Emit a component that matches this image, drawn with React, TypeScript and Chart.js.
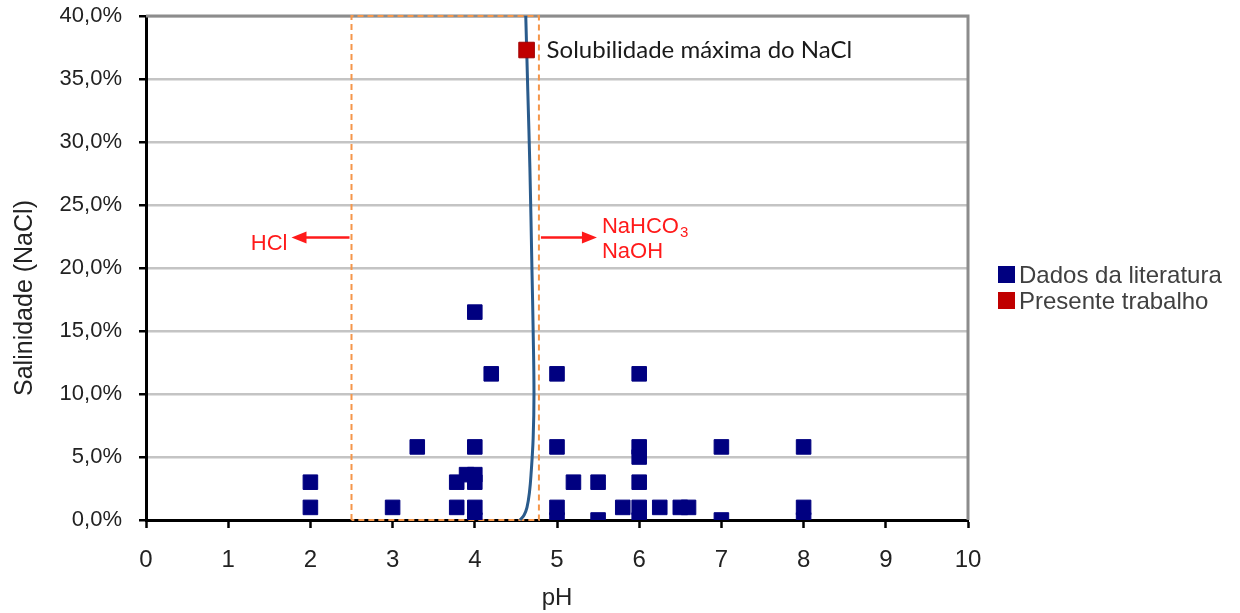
import React, { useEffect, useRef } from "react";
import { Chart, registerables } from "chart.js";

Chart.register(...registerables);

// Literature data (pH, salinity %)
const literaturePH = [
  2, 2, 3, 3.3, 3.78, 3.78, 3.9, 4, 4, 4, 4, 4, 4, 4.2,
  5, 5, 5, 5, 5.2, 5.5, 5.5, 5.8, 6, 6, 6, 6, 6, 6,
  6.25, 6.5, 6.6, 7, 7, 8, 8, 8,
];
const literatureSalinity = [
  3.0, 1.0, 1.0, 5.8, 3.0, 1.0, 3.6, 16.5, 5.8, 3.6, 3.0, 1.0, 0.0, 11.6,
  11.6, 5.8, 1.0, 0.0, 3.0, 3.0, 0.0, 1.0, 11.6, 5.8, 5.0, 3.0, 1.0, 0.0,
  1.0, 1.0, 1.0, 5.8, 0.0, 5.8, 1.0, 0.0,
];

// Present work
const presentPH = [4.63];
const presentSalinity = [37.3];

// Solubility curve
const solubilityPH = [4.55, 4.6, 4.635, 4.665, 4.685, 4.71, 4.72, 4.71, 4.695, 4.67, 4.645, 4.62];
const solubilitySalinity = [0, 0.4, 1.0, 2.2, 3.7, 6.5, 10, 15, 20, 28, 34, 40];

// Dashed window
const windowPH = [2.5, 2.5, 4.78, 4.78, 2.5];
const windowSalinity = [0, 40, 40, 0, 0];

const legendLabels = ["Dados da literatura", "Presente trabalho"];
const annotationText = "Solubilidade máxima do NaCl";
const acidLabel = "HCl";
const baseLabels = ["NaHCO", "3", "NaOH"];
const xTitle = "pH";
const yTitle = "Salinidade (NaCl)";

const toPoints = (xs: number[], ys: number[]) => xs.map((x, i) => ({ x, y: ys[i] }));

const FONT = '"Liberation Sans", Arial, sans-serif';
const NAVY = "#000080";
const RED = "#c00000";
const ANN_RED = "#ff1a1a";

export default function App() {
  const ref = useRef<HTMLCanvasElement>(null);

  useEffect(() => {
    const canvas = ref.current!;
    const overlay = {
      id: "overlay",
      beforeDatasetsDraw(chart: any) {
        const { ctx, chartArea: a } = chart;
        ctx.save();
        ctx.strokeStyle = "#8c8c8c";
        ctx.lineWidth = 3;
        ctx.beginPath();
        ctx.moveTo(a.left, a.top);
        ctx.lineTo(a.right, a.top);
        ctx.lineTo(a.right, a.bottom);
        ctx.stroke();
        ctx.restore();
      },
      afterDraw(chart: any) {
        const { ctx } = chart;
        const xs = chart.scales.x;
        const ys = chart.scales.y;
        ctx.save();

        // y axis title
        ctx.save();
        ctx.translate(25, 298);
        ctx.rotate(-Math.PI / 2);
        ctx.font = `25px ${FONT}`;
        ctx.fillStyle = "#222";
        ctx.textAlign = "center";
        ctx.textBaseline = "middle";
        ctx.fillText(yTitle, 0, 0);
        ctx.restore();

        // annotation next to red point
        const px = xs.getPixelForValue(presentPH[0]);
        const py = ys.getPixelForValue(presentSalinity[0]);
        ctx.font = `24px Lato, "Open Sans", sans-serif`;
        ctx.fillStyle = "#1a1a1a";
        ctx.textAlign = "left";
        ctx.textBaseline = "alphabetic";
        ctx.fillText(annotationText, px + 20, py + 8);

        // arrows
        const leftX = xs.getPixelForValue(windowPH[0]);
        const rightX = xs.getPixelForValue(windowPH[2]);
        const ay = 237.5;
        ctx.strokeStyle = ANN_RED;
        ctx.fillStyle = ANN_RED;
        ctx.lineWidth = 2.5;
        ctx.beginPath();
        ctx.moveTo(leftX - 2, ay);
        ctx.lineTo(leftX - 50, ay);
        ctx.stroke();
        ctx.beginPath();
        ctx.moveTo(leftX - 60, ay);
        ctx.lineTo(leftX - 45, ay - 6);
        ctx.lineTo(leftX - 45, ay + 6);
        ctx.closePath();
        ctx.fill();

        ctx.beginPath();
        ctx.moveTo(rightX + 2, ay);
        ctx.lineTo(rightX + 48, ay);
        ctx.stroke();
        ctx.beginPath();
        ctx.moveTo(rightX + 58, ay);
        ctx.lineTo(rightX + 43, ay - 6);
        ctx.lineTo(rightX + 43, ay + 6);
        ctx.closePath();
        ctx.fill();

        ctx.font = `22px ${FONT}`;
        ctx.textAlign = "right";
        ctx.fillText(acidLabel, leftX - 64, 250);
        ctx.textAlign = "left";
        const bx = rightX + 63;
        ctx.fillText(baseLabels[0], bx, 232.5);
        const w = ctx.measureText(baseLabels[0]).width;
        ctx.font = `15px ${FONT}`;
        ctx.fillText(baseLabels[1], bx + w + 1, 237);
        ctx.font = `22px ${FONT}`;
        ctx.fillText(baseLabels[2], bx, 258);

        // legend
        const colors = [NAVY, RED];
        const lx = 998;
        const tops = [266, 292];
        ctx.font = `24px ${FONT}`;
        ctx.textBaseline = "alphabetic";
        legendLabels.forEach((label, i) => {
          ctx.fillStyle = colors[i];
          ctx.fillRect(lx, tops[i], 17, 17);
          ctx.fillStyle = "#404040";
          ctx.fillText(label, lx + 21, tops[i] + 17);
        });

        ctx.restore();
      },
    };

    const chart = new Chart(canvas, {
      type: "scatter",
      data: {
        datasets: [
          {
            label: legendLabels[1],
            data: toPoints(presentPH, presentSalinity),
            backgroundColor: RED,
            borderColor: "#a00000",
            borderWidth: 1,
            pointStyle: "rect",
            pointRadius: 11,
          },
          {
            label: legendLabels[0],
            data: toPoints(literaturePH, literatureSalinity),
            backgroundColor: NAVY,
            borderColor: NAVY,
            borderWidth: 1,
            pointStyle: "rect",
            pointRadius: 10.3,
          },
          {
            label: "Solubilidade",
            data: toPoints(solubilityPH, solubilitySalinity),
            showLine: true,
            borderColor: "#2a5b8c",
            borderWidth: 3,
            pointRadius: 0,
            tension: 0.4,
            clip: false,
          } as any,
          {
            label: "Janela",
            data: toPoints(windowPH, windowSalinity),
            showLine: true,
            borderColor: "#f5964a",
            borderWidth: 2,
            borderDash: [6, 4],
            pointRadius: 0,
            tension: 0,
            clip: false,
          } as any,
        ],
      },
      options: {
        animation: false,
        responsive: false,
        devicePixelRatio: 1,
        events: [],
        layout: { padding: { left: 0, top: 16, right: 272, bottom: 0 } },
        plugins: {
          legend: { display: false },
          tooltip: { enabled: false },
        },
        scales: {
          x: {
            type: "linear",
            min: 0,
            max: 10,
            afterFit: (s: any) => {
              s.height = 93;
              s.paddingLeft = 0;
              s.paddingRight = 0;
            },
            ticks: {
              stepSize: 1,
              padding: 18,
              color: "#222",
              font: { family: FONT, size: 24 },
            },
            grid: {
              drawOnChartArea: false,
              tickColor: "#000",
              tickLength: 8,
              tickWidth: 2.5,
            },
            border: { color: "#000", width: 3 },
            title: {
              display: true,
              text: xTitle,
              color: "#222",
              font: { family: FONT, size: 24 },
              padding: { top: 2, bottom: 0 },
            },
          },
          y: {
            type: "linear",
            min: 0,
            max: 40,
            afterFit: (s: any) => {
              s.width = 146;
              s.paddingTop = 0;
              s.paddingBottom = 0;
            },
            ticks: {
              stepSize: 5,
              padding: 17,
              color: "#222",
              font: { family: FONT, size: 22 },
              callback: (v: any) => Number(v).toFixed(1).replace(".", ",") + "%",
            },
            grid: {
              color: "#c4c4c4",
              lineWidth: 2.5,
              tickColor: "#000",
              tickLength: 7,
              tickWidth: 2.5,
            },
            border: { color: "#000", width: 3 },
          },
        },
      },
      plugins: [overlay],
    } as any);

    return () => chart.destroy();
  }, []);

  return (
    <div style={{ position: "absolute", left: 0, top: 0, width: 1240, height: 613, background: "#fff" }}>
      <canvas ref={ref} width={1240} height={613} style={{ display: "block" }} />
    </div>
  );
}
